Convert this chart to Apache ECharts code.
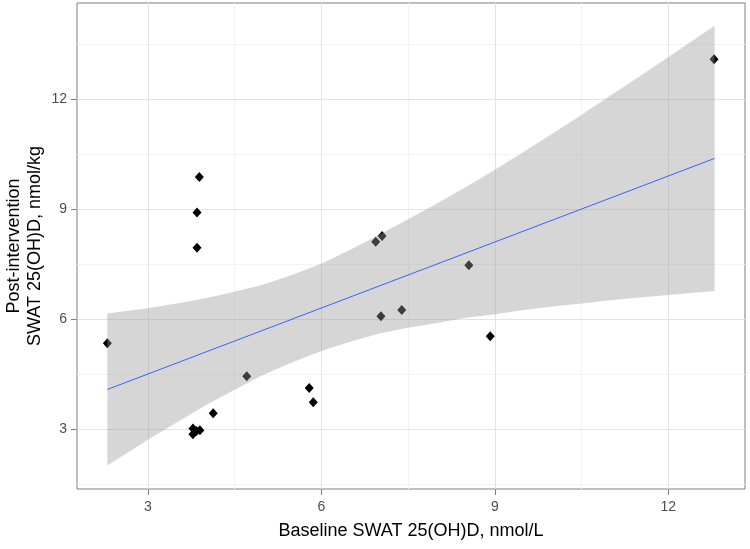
<!DOCTYPE html>
<html>
<head>
<meta charset="utf-8">
<script src="https://cdn.jsdelivr.net/npm/echarts@6/dist/echarts.min.js"></script>
<style>
html,body{margin:0;padding:0;background:#fff;}
#chart{width:750px;height:549px;}
</style>
</head>
<body>
<div id="chart"></div>
<script>
// ---- data ----
var pointsX = [2.30, 3.89, 3.85, 3.85, 3.78, 3.90, 3.78, 3.84, 4.13, 4.71, 5.79, 5.86, 6.94, 7.05, 7.03, 7.39, 8.55, 8.92, 12.79];
var pointsY = [5.35, 9.87, 8.91, 7.95, 3.03, 2.98, 2.87, 2.96, 3.44, 4.45, 4.13, 3.74, 8.11, 8.27, 6.08, 6.25, 7.47, 5.54, 13.08];

var fitX = [2.3, 12.8];
var fitY = [4.09, 10.38];

var bandX     = [2.3, 2.5, 3.0, 3.5, 4.0, 4.5, 5.0, 5.5, 6.0, 6.5, 7.0, 7.5, 8.0, 8.5, 9.0, 9.5, 10.0, 10.5, 11.0, 11.5, 12.0, 12.5, 12.8];
var bandUpper = [6.16, 6.20, 6.30, 6.43, 6.57, 6.75, 6.95, 7.21, 7.51, 7.89, 8.30, 8.72, 9.15, 9.60, 10.07, 10.56, 11.06, 11.57, 12.09, 12.61, 13.14, 13.67, 13.99];
var bandLower = [2.02, 2.22, 2.72, 3.19, 3.66, 4.08, 4.49, 4.83, 5.14, 5.39, 5.61, 5.77, 5.90, 6.04, 6.14, 6.25, 6.35, 6.43, 6.52, 6.59, 6.66, 6.73, 6.77];

var xTicks = [3, 6, 9, 12];
var yTicks = [3, 6, 9, 12];
var xMinor = [1.5, 4.5, 7.5, 10.5, 13.5];
var yMinor = [1.5, 4.5, 7.5, 10.5, 13.5];

var xRange = [1.775, 13.325];
var yRange = [1.38, 14.61];

var xTitle = 'Baseline SWAT 25(OH)D, nmol/L';
var yTitle = 'Post-intervention\nSWAT 25(OH)D, nmol/kg';

// ---- build ----
var FONT = '"Liberation Sans", Arial, sans-serif';
var scatterData = pointsX.map(function (x, i) { return [x, pointsY[i]]; });
var fitData = fitX.map(function (x, i) { return [x, fitY[i]]; });

function gridLines() {
  var d = [];
  var minor = { color: '#f3f3f3', width: 1, type: 'solid' };
  var major = { color: '#e3e3e3', width: 1, type: 'solid' };
  xMinor.forEach(function (v) { if (v > xRange[0] && v < xRange[1]) d.push({ xAxis: v, lineStyle: minor }); });
  yMinor.forEach(function (v) { if (v > yRange[0] && v < yRange[1]) d.push({ yAxis: v, lineStyle: minor }); });
  xTicks.forEach(function (v) { d.push({ xAxis: v, lineStyle: major }); });
  yTicks.forEach(function (v) { d.push({ yAxis: v, lineStyle: major }); });
  return d;
}

var chart = echarts.init(document.getElementById('chart'), null, { renderer: 'canvas' });
chart.setOption({
  animation: false,
  backgroundColor: '#ffffff',
  textStyle: { fontFamily: FONT },
  grid: {
    left: 77, top: 3, right: 5, bottom: 60,
    show: true, borderColor: '#7f7f7f', borderWidth: 1, backgroundColor: '#ffffff',
    containLabel: false, outerBoundsMode: 'none'
  },
  xAxis: {
    type: 'value', min: xRange[0], max: xRange[1],
    axisLine: { show: false },
    axisTick: { show: true, length: 6, lineStyle: { color: '#7f7f7f' }, customValues: xTicks },
    axisLabel: { color: '#4d4d4d', fontSize: 14, fontFamily: FONT, margin: 11, customValues: xTicks },
    splitLine: { show: false },
    name: xTitle, nameLocation: 'middle', nameGap: 33, nameMoveOverlap: false,
    nameTextStyle: { color: '#000', fontSize: 18, fontFamily: FONT }
  },
  yAxis: {
    type: 'value', min: yRange[0], max: yRange[1],
    axisLine: { show: false },
    axisTick: { show: true, length: 6, lineStyle: { color: '#7f7f7f' }, customValues: yTicks },
    axisLabel: { color: '#4d4d4d', fontSize: 14, fontFamily: FONT, margin: 10, customValues: yTicks },
    splitLine: { show: false },
    name: yTitle, nameLocation: 'middle', nameGap: 31, nameRotate: 90, nameMoveOverlap: false,
    nameTextStyle: { color: '#000', fontSize: 18, fontFamily: FONT, lineHeight: 21, align: 'center' }
  },
  series: [
    {
      type: 'line', data: [], z: 1, silent: true,
      markLine: { z: 1, silent: true, symbol: 'none', label: { show: false }, animation: false, data: gridLines() }
    },
    {
      type: 'scatter', data: scatterData, z: 2,
      symbol: 'diamond', symbolSize: [9, 10],
      itemStyle: { color: '#000000', opacity: 1 }
    },
    {
      type: 'custom', z: 3, silent: true, clip: true,
      data: [0],
      renderItem: function (params, api) {
        var pts = [];
        for (var i = 0; i < bandX.length; i++) pts.push(api.coord([bandX[i], bandUpper[i]]));
        for (var j = bandX.length - 1; j >= 0; j--) pts.push(api.coord([bandX[j], bandLower[j]]));
        return { type: 'polygon', shape: { points: pts }, style: { fill: 'rgba(153,153,153,0.4)' } };
      }
    },
    {
      type: 'line', data: fitData, z: 4, symbol: 'none', silent: true,
      lineStyle: { color: '#3366FF', width: 1 }
    }
  ]
});
</script>
</body>
</html>
